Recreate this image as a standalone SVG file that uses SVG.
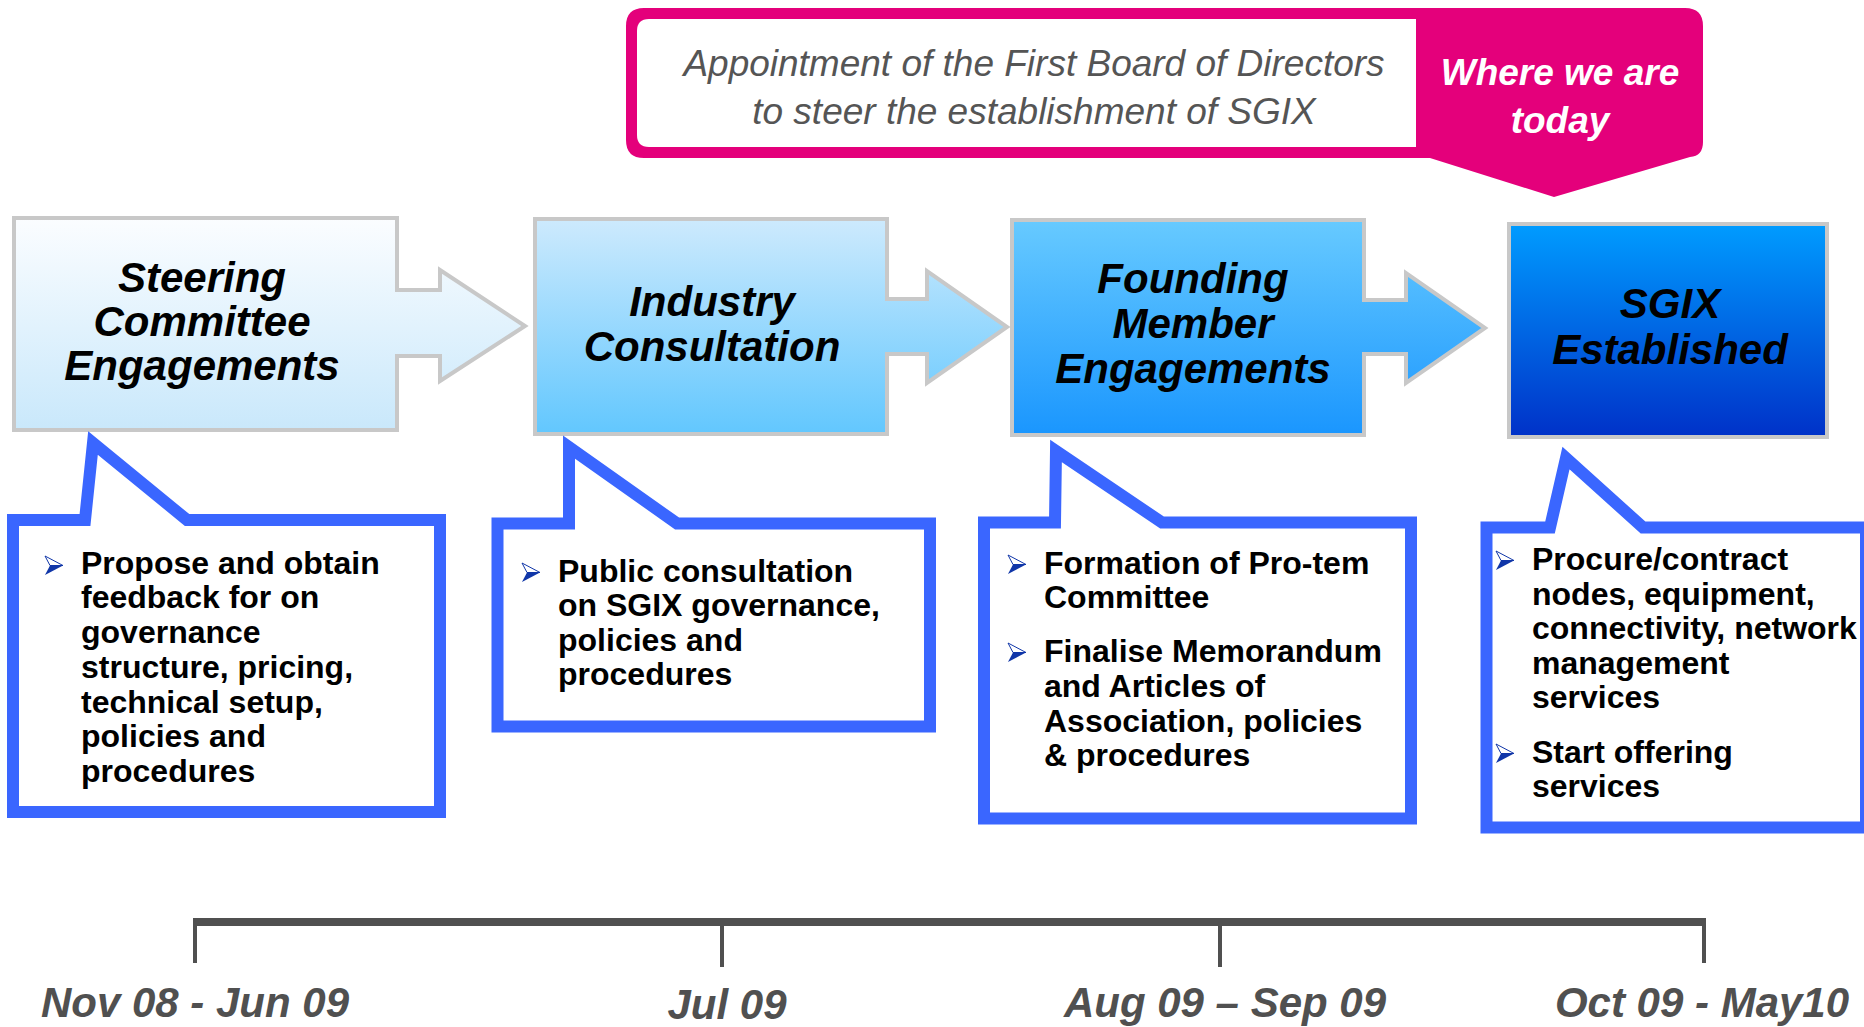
<svg xmlns="http://www.w3.org/2000/svg" width="1864" height="1027" viewBox="0 0 1864 1027">
<style>
.hd{font-family:"Liberation Sans",Arial,sans-serif;font-weight:bold;font-style:italic;font-size:42px;fill:#000;text-anchor:middle}
.bt{font-family:"Liberation Sans",Arial,sans-serif;font-weight:bold;font-size:32px;fill:#000}
.tl{font-family:"Liberation Sans",Arial,sans-serif;font-weight:bold;font-style:italic;font-size:42px;fill:#505050;text-anchor:middle}
.top{font-family:"Liberation Sans",Arial,sans-serif;font-style:italic;font-size:37px;fill:#555;text-anchor:middle}
.where{font-family:"Liberation Sans",Arial,sans-serif;font-weight:bold;font-style:italic;font-size:37px;fill:#fff;text-anchor:middle}
.box{stroke:#c8c8c8;stroke-width:4;stroke-linejoin:miter}
.call{fill:#fff;stroke:#3a66ff;stroke-width:12;stroke-linejoin:miter;stroke-miterlimit:10}
.tick{stroke:#505050;stroke-width:4;fill:none}
</style>
<defs>
<linearGradient id="g1" x1="0" y1="0" x2="0" y2="1"><stop offset="0" stop-color="#fbfdff"/><stop offset="1" stop-color="#c9e8fb"/></linearGradient>
<linearGradient id="g2" x1="0" y1="0" x2="0" y2="1"><stop offset="0" stop-color="#cdeafd"/><stop offset="1" stop-color="#62c7fe"/></linearGradient>
<linearGradient id="g3" x1="0" y1="0" x2="0" y2="1"><stop offset="0" stop-color="#67caff"/><stop offset="1" stop-color="#1a96fe"/></linearGradient>
<linearGradient id="g4" x1="0" y1="0" x2="0" y2="1"><stop offset="0" stop-color="#009cff"/><stop offset="1" stop-color="#0031c8"/></linearGradient>
<g id="bul">
<polygon points="0,0 18,9.5 5,9.5" fill="#fff" stroke="#1036a8" stroke-width="1"/>
<polygon points="5,9.5 18,9.5 0,19" fill="#1036a8"/>
</g>
</defs>
<rect width="1864" height="1027" fill="#fff"/>

<g id="banner">
<path d="M644,8 H1685 Q1703,8 1703,26 V142 Q1703,156 1690,157 L1554,197 L1430,158 H644 Q626,158 626,140 V26 Q626,8 644,8 Z" fill="#e4007b"/>
<path d="M649,19 H1416 V147 H649 Q637,147 637,135 V31 Q637,19 649,19 Z" fill="#fff"/>
<text class="top" x="1034" y="76">Appointment of the First Board of Directors</text>
<text class="top" x="1034" y="124">to steer the establishment of SGIX</text>
<text class="where" x="1560" y="85">Where we are</text>
<text class="where" x="1560" y="133">today</text>
</g>

<g id="connectors"></g>

<g id="step1">
<path class="box" fill="url(#g1)" d="M14,218 H397 V290 H440 V270 L525,326 L440,381 V356 H397 V430 H14 Z"/>
<text class="hd" x="202" y="292">Steering</text>
<text class="hd" x="202" y="336">Committee</text>
<text class="hd" x="202" y="380">Engagements</text>
</g>
<g id="step2">
<path class="box" fill="url(#g2)" d="M535,219 H887 V299 H927 V271 L1007,327 L927,383 V354 H887 V434 H535 Z"/>
<text class="hd" x="712" y="316">Industry</text>
<text class="hd" x="712" y="361">Consultation</text>
</g>
<g id="step3">
<path class="box" fill="url(#g3)" d="M1012,220 H1364 V300 H1406 V273 L1485,328 L1406,383 V354 H1364 V435 H1012 Z"/>
<text class="hd" x="1193" y="293">Founding</text>
<text class="hd" x="1193" y="338">Member</text>
<text class="hd" x="1193" y="383">Engagements</text>
</g>
<g id="step4">
<rect class="box" fill="url(#g4)" x="1509" y="224" width="318" height="213"/>
<text class="hd" x="1670" y="318">SGIX</text>
<text class="hd" x="1670" y="364">Established</text>
</g>

<g id="callout1">
<path class="call" d="M13,520 H85 L93,443 L187,520 H440 V812 H13 Z"/>
<use href="#bul" x="45" y="556"/>
<text class="bt" x="81" y="574">Propose and obtain</text>
<text class="bt" x="81" y="608">feedback for on</text>
<text class="bt" x="81" y="643">governance</text>
<text class="bt" x="81" y="678">structure, pricing,</text>
<text class="bt" x="81" y="713">technical setup,</text>
<text class="bt" x="81" y="747">policies and</text>
<text class="bt" x="81" y="782">procedures</text>
</g>
<g id="callout2">
<path class="call" d="M497.5,523.5 H569 V447 L677,523.5 H930 V726.5 H497.5 Z"/>
<use href="#bul" x="522" y="563"/>
<text class="bt" x="558" y="582">Public consultation</text>
<text class="bt" x="558" y="616">on SGIX governance,</text>
<text class="bt" x="558" y="651">policies and</text>
<text class="bt" x="558" y="685">procedures</text>
</g>
<g id="callout3">
<path class="call" d="M984,522.5 H1055 L1056,451 L1162,522.5 H1411 V818.5 H984 Z"/>
<use href="#bul" x="1008" y="555"/>
<text class="bt" x="1044" y="574">Formation of Pro-tem</text>
<text class="bt" x="1044" y="608">Committee</text>
<use href="#bul" x="1008" y="643"/>
<text class="bt" x="1044" y="662">Finalise Memorandum</text>
<text class="bt" x="1044" y="697">and Articles of</text>
<text class="bt" x="1044" y="732">Association, policies</text>
<text class="bt" x="1044" y="766">&amp; procedures</text>
</g>
<g id="callout4">
<path class="call" d="M1486.5,527.5 H1550 L1566,458 L1643,527.5 H1866 V827.5 H1486.5 Z"/>
<use href="#bul" x="1496" y="551"/>
<text class="bt" x="1532" y="570">Procure/contract</text>
<text class="bt" x="1532" y="605">nodes, equipment,</text>
<text class="bt" x="1532" y="639">connectivity, network</text>
<text class="bt" x="1532" y="674">management</text>
<text class="bt" x="1532" y="708">services</text>
<use href="#bul" x="1496" y="744"/>
<text class="bt" x="1532" y="763">Start offering</text>
<text class="bt" x="1532" y="797">services</text>
</g>

<g id="timeline">
<rect x="193" y="918" width="1513" height="8" fill="#505050"/>
<path class="tick" d="M195,922 V963 M722,922 V967 M1220,922 V967 M1704,922 V963"/>
<text class="tl" x="195" y="1017">Nov 08 - Jun 09</text>
<text class="tl" x="727" y="1019">Jul 09</text>
<text class="tl" x="1225" y="1017">Aug 09 – Sep 09</text>
<text class="tl" x="1702" y="1017">Oct 09 - May10</text>
</g>
</svg>
